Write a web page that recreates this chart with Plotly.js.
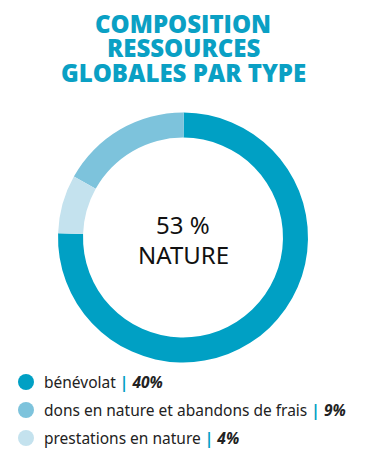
<!DOCTYPE html>
<html><head><meta charset="utf-8">
<script src="https://cdn.plot.ly/plotly-3.0.1.min.js"></script>
<style>html,body{margin:0;padding:0;background:#fff}#c{width:366px;height:462px}</style>
</head><body><div id="c"></div>
<script>
const categories = ["bénévolat", "dons en nature et abandons de frais", "prestations en nature"];
const values = [40, 9, 4];
const valueLabels = ["40%", "9%", "4%"];
const colors = ["#00a0c4", "#7dc3dc", "#c4e2ee"];
const titleLines = ["COMPOSITION", "RESSOURCES", "GLOBALES PAR TYPE"];
const centerText = ["53 %", "NATURE"];

const trace = {
  type: "pie",
  labels: categories,
  values: values,
  hole: 0.8,
  sort: false,
  direction: "counterclockwise",
  rotation: 0.3,
  marker: {colors: colors, line: {width: 0}},
  textinfo: "none",
  hoverinfo: "label+value",
  showlegend: false,
  domain: {x: [0.1585, 0.8415], y: [0.2154, 0.7565]}
};

const annotations = [];
const titleY = [23, 47.5, 72];
titleLines.forEach((t, i) => {
  annotations.push({text: t, x: 0.5, y: 1 - titleY[i]/462, xref: "paper", yref: "paper", showarrow: false,
    xanchor: "center", yanchor: "middle",
    font: {family: "Open Sans, sans-serif", size: 24, color: "#0aa0c4", weight: 800}});
});
annotations.push(
  {text: centerText[0], x: 0.5, y: 1 - 224/462, xref: "paper", yref: "paper", showarrow: false,
   font: {family: "Noto Sans, sans-serif", size: 24, color: "#111"}, xanchor: "center", yanchor: "middle"},
  {text: centerText[1], x: 0.5, y: 1 - 254/462, xref: "paper", yref: "paper", showarrow: false,
   font: {family: "Noto Sans, sans-serif", size: 24, color: "#111"}, xanchor: "center", yanchor: "middle"}
);
const shapes = [];
const rowY = [382, 410, 438];
categories.forEach((c, i) => {
  annotations.push({
    text: c + ' <b><span style="color:' + colors[0] + '">|</span></b> <b><i>' + valueLabels[i] + '</i></b>',
    x: 42/366, y: 1 - rowY[i]/462, xref: "paper", yref: "paper", showarrow: false,
    xanchor: "left", yanchor: "middle",
    font: {family: "Noto Sans, sans-serif", size: 15.5, color: "#222"}
  });
  shapes.push({type: "circle", xref: "paper", yref: "paper",
    x0: 18/366, x1: 34/366, y0: 1 - (rowY[i]+8)/462, y1: 1 - (rowY[i]-8)/462,
    fillcolor: colors[i], line: {width: 0}});
});

const layout = {
  width: 366, height: 462,
  margin: {l: 0, r: 0, t: 0, b: 0},
  paper_bgcolor: "#fff",
  annotations: annotations,
  shapes: shapes
};
Plotly.newPlot("c", [trace], layout, {displayModeBar: false, staticPlot: true});
</script></body></html>
